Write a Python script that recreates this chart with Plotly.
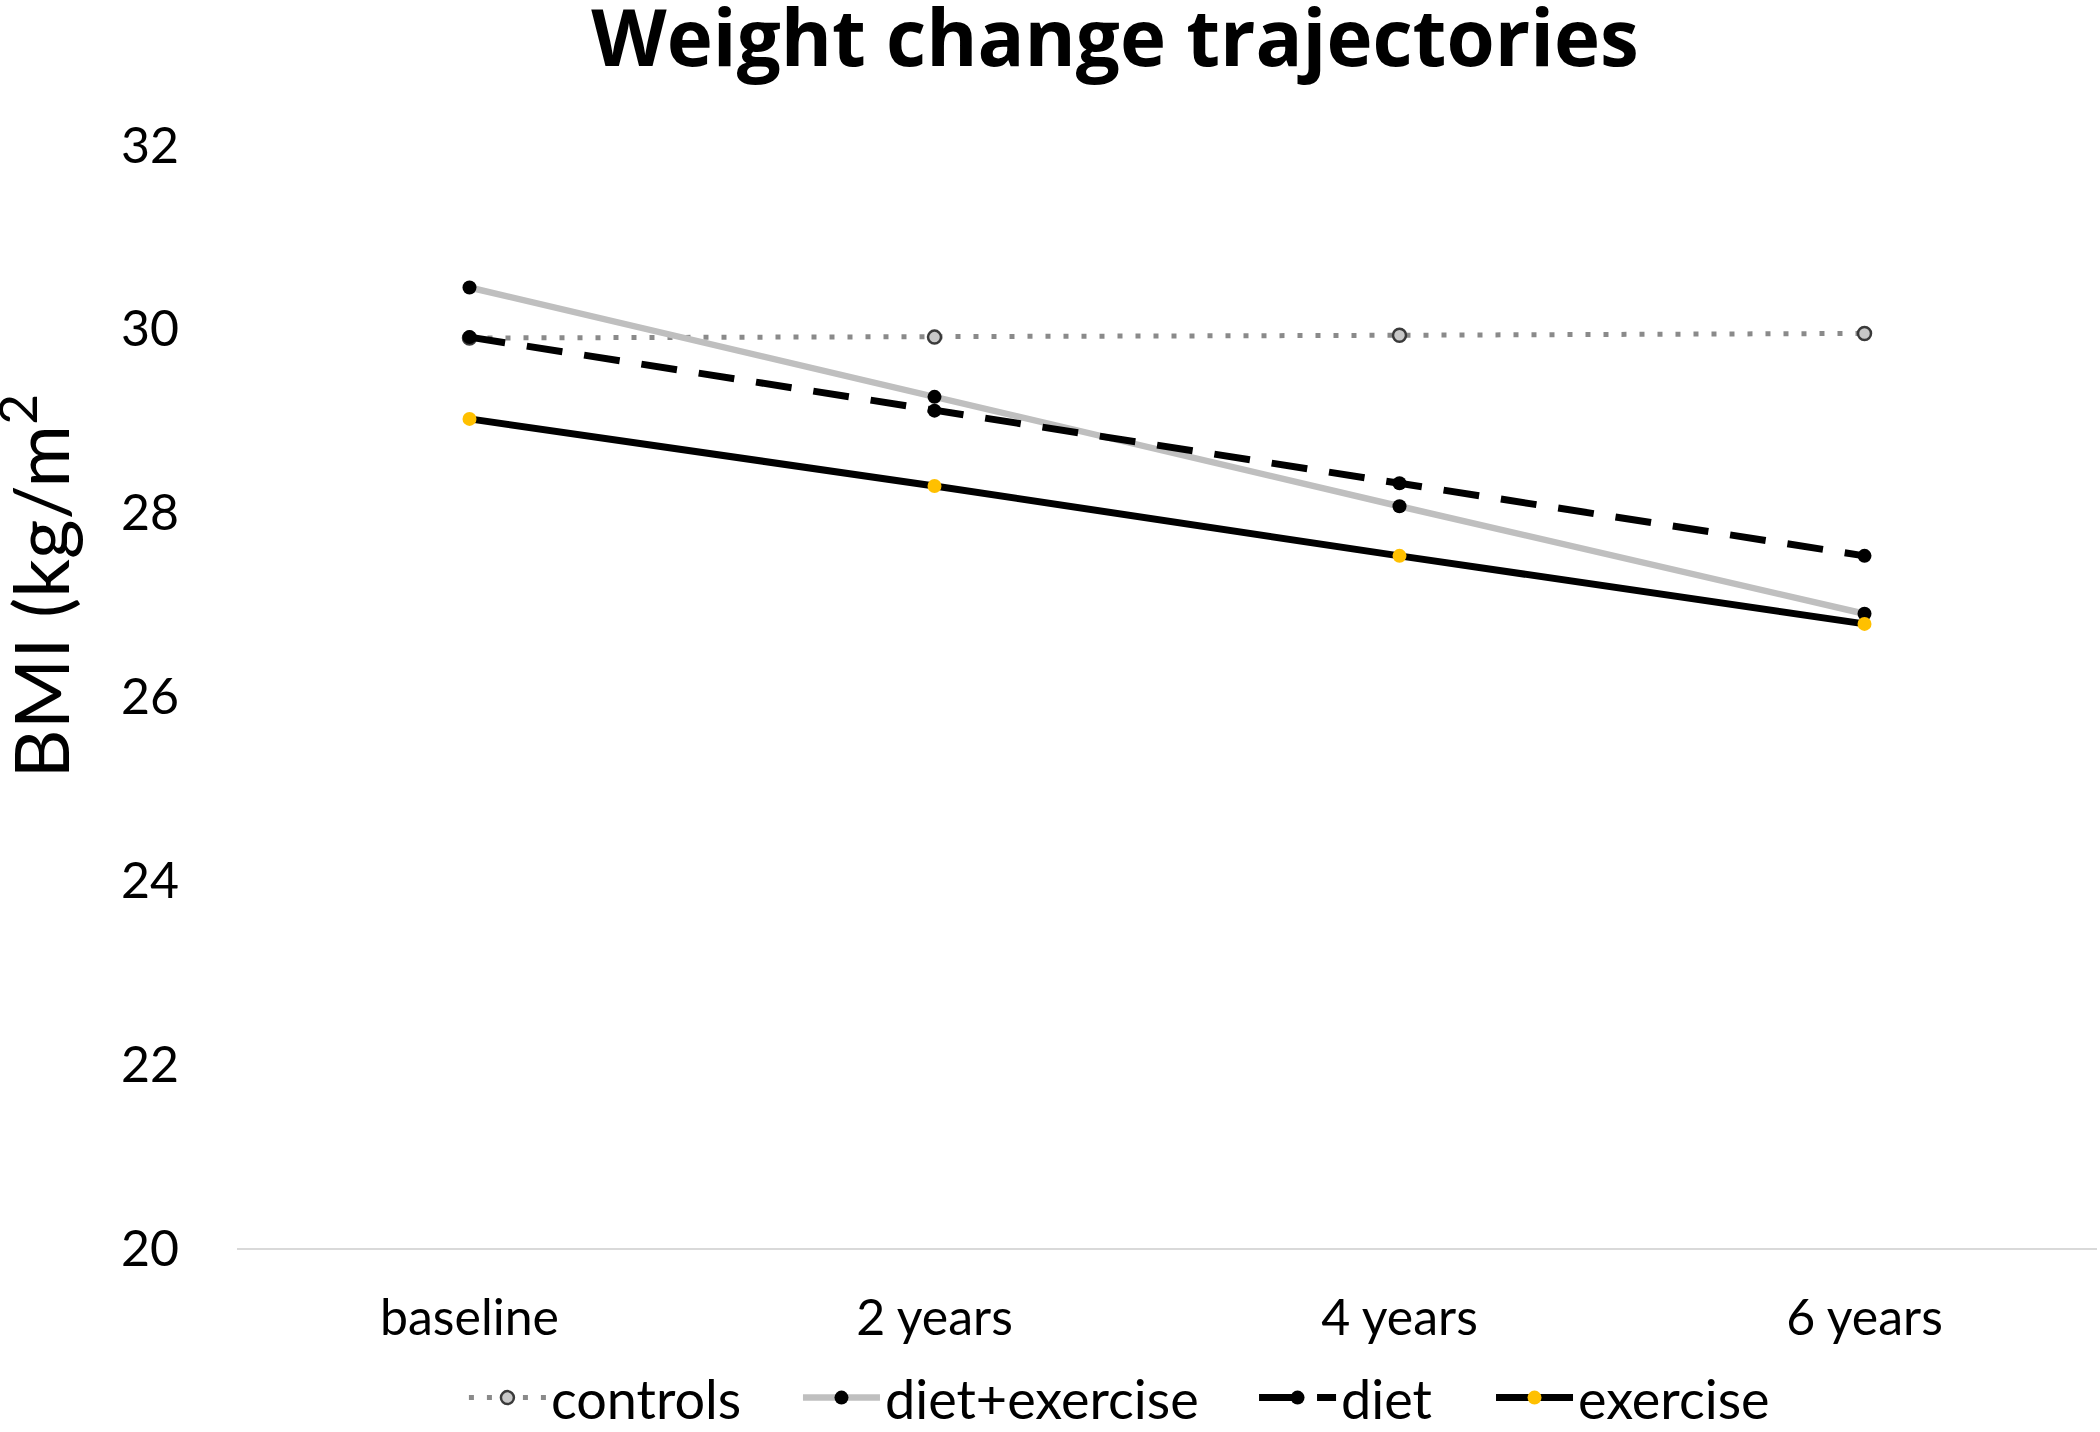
import plotly.graph_objects as go

categories = ["baseline", "2 years", "4 years", "6 years"]
controls = [29.90, 29.91, 29.93, 29.95]
diet_exercise = [30.45, 29.26, 28.07, 26.90]
diet = [29.91, 29.11, 28.32, 27.53]
exercise = [29.02, 28.29, 27.53, 26.79]
y_ticks = [20, 22, 24, 26, 28, 30, 32]

fig = go.Figure()
fig.add_trace(go.Scatter(
    x=categories, y=controls, name="controls", mode="lines+markers", legend="legend",
    line=dict(color="#8A8A8A", width=5, dash="5px,13px"),
    marker=dict(size=13, color="#C8C8C8", line=dict(color="#3A3A3A", width=2.5)),
))
fig.add_trace(go.Scatter(
    x=categories, y=diet_exercise, name="diet+exercise", mode="lines+markers", legend="legend2",
    line=dict(color="#BFBFBF", width=6.5),
    marker=dict(size=14, color="#000000"),
))
fig.add_trace(go.Scatter(
    x=categories, y=diet, name="diet", mode="lines+markers", legend="legend3",
    line=dict(color="#000000", width=7, dash="36px,22px"),
    marker=dict(size=14, color="#000000"),
))
fig.add_trace(go.Scatter(
    x=categories, y=exercise, name="exercise", mode="lines+markers", legend="legend4",
    line=dict(color="#000000", width=7),
    marker=dict(size=14, color="#FFC000"),
))

def leg(x):
    return dict(orientation="h", x=x, xanchor="left", y=-0.136, yanchor="middle",
                font=dict(family="Lato", size=54, color="#000000"), itemwidth=77,
                bgcolor="rgba(0,0,0,0)", borderwidth=0)

fig.update_layout(
    width=2100, height=1432,
    margin=dict(l=237, r=3, t=145, b=184, autoexpand=False),
    paper_bgcolor="white", plot_bgcolor="white",
    font=dict(family="Lato", color="#000000"),
    title=dict(text="<b>Weight change trajectories</b>", x=0.531, xanchor="center",
               y=0.9733, yanchor="middle",
               font=dict(family="Open Sans", size=78, color="#000000")),
    showlegend=True,
    legend=leg(0.1220),
    legend2=leg(0.3016),
    legend3=leg(0.5468),
    legend4=leg(0.6742),
    xaxis=dict(type="category", range=[-0.5, 3.5], showgrid=False, zeroline=False,
               showline=True, linecolor="#D9D9D9", linewidth=2, ticks="", automargin=False,
               tickfont=dict(family="Lato", size=50), ticklabelstandoff=25),
    yaxis=dict(range=[20, 32], tickvals=y_ticks, showgrid=False, zeroline=False,
               showline=False, ticks="", automargin=False,
               tickfont=dict(family="Lato", size=50), ticklabelstandoff=57),
    annotations=[dict(text="BMI (kg/m<sup>2</sup>", textangle=-90, xref="paper", yref="paper",
                      x=-0.109, y=0.600, xanchor="center", yanchor="middle", showarrow=False,
                      font=dict(family="Lato", size=76, color="#000000"))],
)

fig.write_html("out.html", config={"displayModeBar": False},
               post_script="document.body.style.margin='0';document.body.style.overflow='hidden';")
